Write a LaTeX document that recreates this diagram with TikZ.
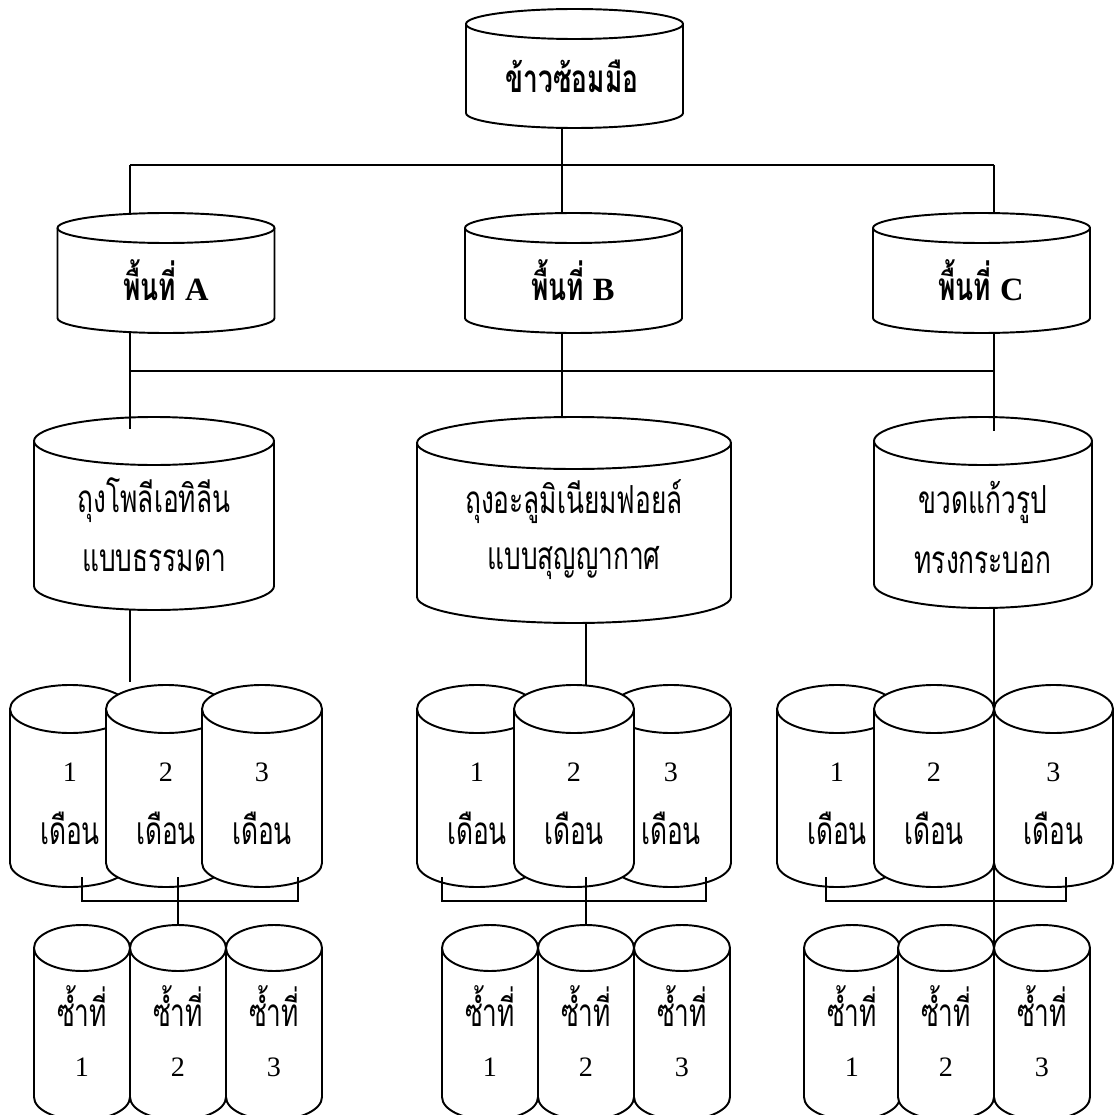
\documentclass[tikz,border=0pt]{standalone}
\usepackage{fontspec}
\setmainfont{Liberation Serif}
\newfontfamily\thaifont[Script=Thai, FakeStretch=0.68]{Loma}

% A drum (cylinder) seen from slightly above: name, centre x, top y, width, height, ellipse radius
\newcommand\drum[6]{%
  \filldraw[drumline, fill=white]
    ({#2-#4/2},{-(#3+#6)}) -- ({#2-#4/2},{-(#3+#5-#6)})
    arc[start angle=180, end angle=360, x radius={#4/2}, y radius=#6]
    -- ({#2+#4/2},{-(#3+#6)})
    arc[start angle=0, end angle=180, x radius={#4/2}, y radius=#6] -- cycle;
  \draw[drumline] ({#2-#4/2},{-(#3+#6)})
    arc[start angle=180, end angle=360, x radius={#4/2}, y radius=#6];
  \node[hub, minimum width={#4*0.02cm}, minimum height={#5*0.02cm}] (#1) at (#2,{-(#3+#5/2)}) {};%
}

\begin{document}
\begin{tikzpicture}[x=0.02cm, y=0.02cm,
  drumline/.style={line width=1.1pt, line join=round},
  link/.style={line width=1.1pt},
  hub/.style={draw=none, inner sep=0pt, outer sep=0pt},
  lbl/.style={inner sep=0pt, font=\thaifont\fontsize{22}{26}\selectfont},
  boldlbl/.style={inner sep=0pt, font=\thaifont\bfseries\fontsize{22}{26}\selectfont},
  num/.style={inner sep=0pt, font=\rmfamily\fontsize{16}{19}\selectfont}]

\useasboundingbox (0,0) rectangle (1116,-1115);

% ---------- root ----------
\drum{T}{574.5}{9}{217}{119}{15}
\node[boldlbl] (Tl) at (572,-76) {ข้าวซ้อมมือ};

% ---------- areas ----------
\drum{A}{166}{213}{217}{120}{15}
\drum{B}{573.5}{213}{217}{120}{15}
\drum{C}{981.5}{213}{217}{120}{15}
\node[boldlbl] (Al) at (166,-280) {พื้นที่ {\rmfamily\fontsize{18.5}{21}\selectfont A}};
\node[boldlbl] (Bl) at (573,-280) {พื้นที่ {\rmfamily\fontsize{18.5}{21}\selectfont B}};
\node[boldlbl] (Cl) at (981,-280) {พื้นที่ {\rmfamily\fontsize{18.5}{21}\selectfont C}};

% ---------- packages ----------
\drum{P1}{154}{417}{240}{193}{24}
\drum{P2}{574}{417}{314}{206}{26}
\drum{P3}{983}{417}{218}{191}{24}
\node[lbl] (P1a) at (154,-500) {ถุงโพลีเอทิลีน};
\node[lbl] (P1b) at (154,-561) {แบบธรรมดา};
\node[lbl] (P2a) at (574,-502) {ถุงอะลูมิเนียมฟอยล์};
\node[lbl] (P2b) at (574,-563) {แบบสุญญากาศ};
\node[lbl] (P3a) at (983,-502) {ขวดแก้วรูป};
\node[lbl] (P3b) at (983,-563) {ทรงกระบอก};

% ---------- storage months ----------
\drum{MA1}{70}{685}{120}{202}{24}
\drum{MA2}{166}{685}{120}{202}{24}
\drum{MA3}{262}{685}{120}{202}{24}
\drum{MB1}{477}{685}{120}{202}{24}
\drum{MB3}{671}{685}{120}{202}{24}
\drum{MB2}{574}{685}{120}{202}{24}
\drum{MC1}{837}{685}{120}{202}{24}
\drum{MC2}{934}{685}{120}{202}{24}
\drum{MC3}{1053.5}{685}{119}{202}{24}
\foreach \n/\x/\d in {MA1/70/1, MA2/166/2, MA3/262/3, MB1/477/1, MB2/574/2, MB3/671/3,
                      MC1/837/1, MC2/934/2, MC3/1053.5/3}{
  \node[num] (\n d) at (\x,-772) {\d};
  \node[lbl] (\n m) at (\x,-828) {เดือน};
}

% ---------- replicates ----------
\foreach \n/\x/\d in {RA1/82/1, RA2/178/2, RA3/274/3, RB1/490/1, RB2/586/2, RB3/682/3,
                      RC1/852/1, RC2/946/2, RC3/1042/3}{
  \drum{\n}{\x}{925}{96}{195}{23}
  \node[lbl] (\n r) at (\x,-1006) {ซ้ำที่};
  \node[num] (\n d) at (\x,-1067) {\d};
}

% ---------- connectors ----------
\coordinate (busA) at (130,-165);
\coordinate (busB) at (562,-165);
\coordinate (busC) at (994,-165);
\coordinate (midA) at (130,-371);
\coordinate (midB) at (562,-371);
\coordinate (midC) at (994,-371);
\coordinate (inA) at (130,-429);
\coordinate (inC) at (994,-431);
\coordinate (dropA) at (130,-682);
\coordinate (dropB) at (586,-685);
\coordinate (dropC) at (994,-950);

\draw[link] (busB |- T.south) -- (busB |- B.north);
\draw[link] (busA) -- (busC);
\draw[link] (busA) -- (busA |- A.north);
\draw[link] (busC) -- (busC |- C.north);

\draw[link] (midA |- A.south) -- (inA);
\draw[link] (midB |- B.south) -- (midB |- P2.north);
\draw[link] (midC |- C.south) -- (inC);
\draw[link] (midA) -- (midC);

\draw[link] (dropA |- P1.south) -- (dropA);
\draw[link] (dropB |- P2.south) -- (dropB);
\draw[link] (dropC |- P3.south) -- (dropC);

% brackets joining the months to the replicates
\coordinate (kA1) at (82,-877);  \coordinate (kA2) at (298,-877);
\coordinate (kB1) at (442,-877); \coordinate (kB2) at (706,-877);
\coordinate (kC1) at (826,-877); \coordinate (kC2) at (1066,-877);
\draw[link] (kA1) -- ++(0,-24) -| (kA2);
\draw[link] (kB1) -- ++(0,-24) -| (kB2);
\draw[link] (kC1) -- ++(0,-24) -| (kC2);
\draw[link] (RA2.north |- kA1) -- (RA2.north);
\draw[link] (RB2.north |- kB1) -- (RB2.north);
\end{tikzpicture}
\end{document}
